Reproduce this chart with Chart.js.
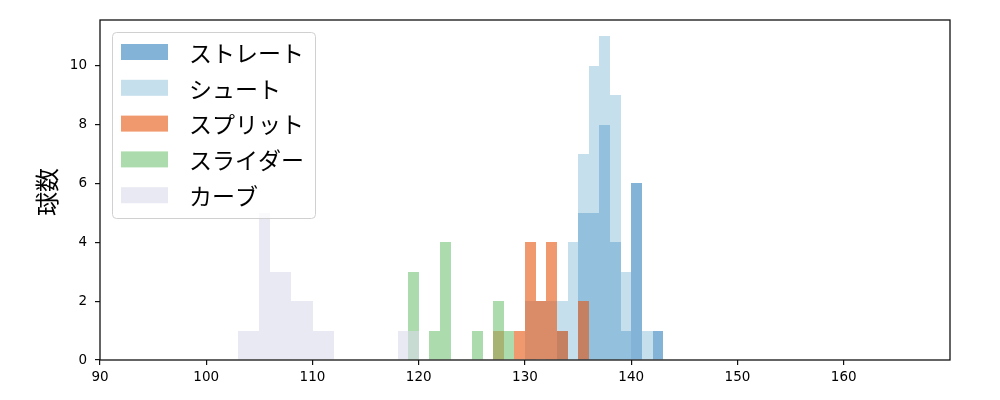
<!DOCTYPE html>
<html><head><meta charset="utf-8">
<script src="https://cdn.jsdelivr.net/npm/chart.js@4.4.1/dist/chart.umd.min.js"></script>
<style>html,body{margin:0;padding:0;background:#fff}#wrap{width:1000px;height:400px}</style>
</head><body><div id="wrap"><canvas id="c" width="1000" height="400"></canvas></div>
<script>
const seriesNames = ['ストレート', 'シュート', 'スプリット', 'スライダー', 'カーブ'];
const seriesColors = ['rgba(49,130,189,0.6)', 'rgba(158,202,225,0.6)', 'rgba(230,85,13,0.6)', 'rgba(116,196,118,0.6)', 'rgba(218,218,235,0.6)'];
const binWidth = 1;
const straightBins = [133, 135, 136, 137, 138, 139, 140, 142];
const straightCounts = [1, 5, 5, 8, 4, 1, 6, 1];
const shootBins = [130, 131, 132, 133, 134, 135, 136, 137, 138, 139, 141];
const shootCounts = [2, 2, 2, 2, 4, 7, 10, 11, 9, 3, 1];
const splitBins = [127, 129, 130, 131, 132, 133, 135];
const splitCounts = [1, 1, 4, 2, 4, 1, 2];
const sliderBins = [119, 121, 122, 125, 127, 128];
const sliderCounts = [3, 1, 4, 1, 2, 1];
const curveBins = [103, 104, 105, 106, 107, 108, 109, 110, 111, 118, 119];
const curveCounts = [1, 1, 5, 3, 3, 2, 2, 1, 1, 1, 1];
const xTicks = [90, 100, 110, 120, 130, 140, 150, 160];
const yTicks = [0, 2, 4, 6, 8, 10];
const xRange = [90, 170];
const yRange = [0, 11.55];
const yLabel = '球数';

const allBins = [straightBins, shootBins, splitBins, sliderBins, curveBins];
const allCounts = [straightCounts, shootCounts, splitCounts, sliderCounts, curveCounts];

const CJK = "'Noto Sans CJK JP', 'DejaVu Sans', sans-serif";
const TICKFONT = "'DejaVu Sans', 'Noto Sans CJK JP', sans-serif";

// snap bar edges to whole pixels so adjacent bins meet without seams
const snapBars = {
  id: 'snapBars',
  afterDatasetsUpdate(chart) {
    chart.getSortedVisibleDatasetMetas().forEach(meta => {
      meta.data.forEach(el => {
        const l = Math.round(el.x - el.width / 2);
        const r = Math.round(el.x + el.width / 2);
        el.x = (l + r) / 2;
        el.width = r - l;
        el.y = Math.round(el.y);
      });
    });
  }
};

const decor = {
  id: 'decor',
  afterDatasetsDraw(chart) {
    const {ctx, chartArea: a} = chart;
    ctx.save();
    ctx.strokeStyle = '#111';
    ctx.lineWidth = 1.3;
    ctx.strokeRect(a.left, a.top, a.right - a.left, a.bottom - a.top);
    ctx.restore();
  },
  afterDraw(chart) {
    const {ctx, chartArea: a} = chart;
    ctx.save();
    ctx.translate(47, (a.top + a.bottom) / 2 + 2);
    ctx.rotate(-Math.PI / 2);
    ctx.font = '24px ' + CJK;
    ctx.fillStyle = '#000';
    ctx.textAlign = 'center';
    ctx.textBaseline = 'middle';
    ctx.fillText(yLabel, 0, 0);
    ctx.restore();
    ctx.save();
    const bx = a.left + 12.5, by = a.top + 12.5, bw = 203, bh = 186, r = 4;
    ctx.beginPath();
    ctx.moveTo(bx + r, by);
    ctx.arcTo(bx + bw, by, bx + bw, by + bh, r);
    ctx.arcTo(bx + bw, by + bh, bx, by + bh, r);
    ctx.arcTo(bx, by + bh, bx, by, r);
    ctx.arcTo(bx, by, bx + bw, by, r);
    ctx.closePath();
    ctx.fillStyle = 'rgba(255,255,255,0.8)';
    ctx.fill();
    ctx.strokeStyle = '#d0d0d0';
    ctx.lineWidth = 1;
    ctx.stroke();
    ctx.font = '23px ' + CJK;
    ctx.textBaseline = 'middle';
    ctx.textAlign = 'left';
    chart.data.datasets.forEach((ds, i) => {
      const cy = a.top + 32 + i * 35.8;
      ctx.fillStyle = ds.backgroundColor;
      ctx.fillRect(a.left + 21, cy - 8, 47, 16);
      ctx.fillStyle = '#000';
      ctx.fillText(ds.label, a.left + 89, cy + 1);
    });
    ctx.restore();
  }
};

new Chart(document.getElementById('c'), {
  type: 'bar',
  data: {
    datasets: seriesNames.map((name, i) => ({
      label: name,
      data: allBins[i].map((b, j) => ({x: b + binWidth / 2, y: allCounts[i][j]})),
      backgroundColor: seriesColors[i],
      borderWidth: 0,
      barPercentage: 1,
      categoryPercentage: 1,
      grouped: false,
      inflateAmount: 0,
      order: seriesNames.length - i
    }))
  },
  options: {
    responsive: false,
    animation: false,
    layout: {padding: {left: 0, right: 50, top: 20, bottom: 0}},
    plugins: {legend: {display: false}, tooltip: {enabled: false}},
    scales: {
      x: {
        type: 'linear',
        min: xRange[0], max: xRange[1],
        offset: false,
        grid: {display: true, drawOnChartArea: false, drawTicks: true, tickLength: 5, color: '#111', lineWidth: 1.2, offset: false},
        border: {display: false},
        ticks: {color: '#000', font: {family: TICKFONT, size: 13.5}, padding: 4, maxRotation: 0},
        afterBuildTicks: s => { s.ticks = xTicks.map(v => ({value: v})); },
        afterFit: s => { s.height = 40; }
      },
      y: {
        min: yRange[0], max: yRange[1],
        grid: {display: true, drawOnChartArea: false, drawTicks: true, tickLength: 5, color: '#111', lineWidth: 1.2},
        border: {display: false},
        ticks: {color: '#000', font: {family: TICKFONT, size: 13.5}, padding: 8},
        afterBuildTicks: s => { s.ticks = yTicks.map(v => ({value: v})); },
        afterFit: s => { s.width = 100; }
      }
    }
  },
  plugins: [snapBars, decor]
});
</script>
</body></html>
